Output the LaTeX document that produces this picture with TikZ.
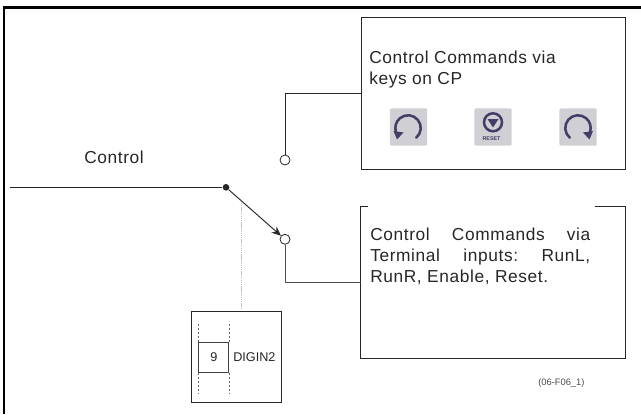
\documentclass[tikz,border=0pt]{standalone}
\usepackage{fontspec}
\setmainfont[LetterSpace=3.5]{Liberation Sans}
\newfontfamily\plainfont{Liberation Sans}
\usetikzlibrary{arrows.meta}
\definecolor{keybg}{RGB}{208,208,212}
\definecolor{keyfg}{RGB}{66,62,104}
\tikzset{
  x=0.75pt,y=-0.75pt,
  frameline/.style={line width=1.9pt,black},
  boxline/.style={line width=0.7pt,draw=black!85},
  wire/.style={line width=0.7pt,draw=black!85},
  term/.style={circle,draw=black!85,fill=white,line width=0.6pt,minimum size=7.5pt,inner sep=0pt},
  junction/.style={circle,fill=black!85,minimum size=5pt,inner sep=0pt},
  label/.style={inner sep=0pt,anchor=base west,font=\fontsize{13pt}{15pt}\selectfont,text=black!85},
  small/.style={inner sep=0pt,font=\plainfont\fontsize{9.5pt}{11pt}\selectfont,text=black!85},
  key/.style={fill=keybg,rounded corners=1pt,minimum size=28pt,inner sep=0pt},
  keyarc/.style={draw=keyfg,line width=1.9pt,line cap=round},
  keytip/.style={fill=keyfg,draw=none},
  dots/.style={line width=0.7pt,draw=black!60,dash pattern=on 1.5pt off 1.5pt},
}
\begin{document}
\begin{tikzpicture}
\useasboundingbox (0,0) rectangle (641,414);
\draw[frameline] (4,414) -- (4,7.5) -- (641,7.5);
% top box
\node[draw=black!85,line width=0.7pt,minimum width=198.4pt,minimum height=114pt,inner sep=0pt,anchor=north west] (cp) at (360.5,16.5) {};
\node[label] (t1) at (369,63) {Control Commands via};
\node[label] (t2) at (369,84) {keys on CP};
\node[key] (k1) at (408.5,127) {};
\node[key] (k2) at (493,127) {};
\node[key] (k3) at (578,127) {};
\draw[keyarc] (416.2,137.7) arc[start angle=50,end angle=-198,radius=12.7];
\path[keytip] (393.5,131) -- (403.5,132.5) -- (397,139.5) -- cycle;
\draw[keyarc] (569.8,137.7) arc[start angle=130,end angle=378,radius=12.7];
\path[keytip] (593,131) -- (583,132.5) -- (589.5,139.5) -- cycle;
\node[circle,draw=keyfg,line width=1.9pt,minimum size=13.5pt,inner sep=0pt] (k2c) at (493,122.3) {};
\path[keytip] (487.5,119) -- (498.5,119) -- (493,127.5) -- cycle;
\node[inner sep=0pt,font=\plainfont\bfseries\fontsize{4pt}{4pt}\selectfont,text=keyfg] (k2b) at (491.5,138.5) {RESET};
% lower box with a gap in the top edge
\coordinate (bg1) at (368,206.5);
\coordinate (bg2) at (595,206.5);
\draw[boxline] (bg1) -- (360.5,206.5) -- (360.5,358.5) -- (625,358.5) -- (625,206.5) -- (bg2);
\node[inner sep=0pt,anchor=north west,align=left,font=\fontsize{13pt}{15.6pt}\selectfont,text=black!85] (t3) at (370,228) {%
\hbox to 165pt{Control\hfill Commands\hfill via}\\
\hbox to 165pt{Terminal\hfill inputs:\hfill RunL,}\\
RunR, Enable, Reset.};
% switch
\coordinate (in) at (10,187.3);
\node[junction] (j) at (226,187.3) {};
\node[term] (up) at (285,160) {};
\node[term] (dn) at (285,239.3) {};
\coordinate (upbend) at (285,93.3);
\coordinate (dnbend) at (285,282.7);
\draw[wire] (in) -- (j);
\draw[wire,-{Stealth[length=7pt,width=6pt]}] (j) -- (dn);
\draw[wire] (up) -- (upbend) -- (upbend -| cp.west);
\draw[wire,draw=black!70] (dn) -- (dnbend) -- (360.5,282.7);
\node[label] (ctl) at (84,163) {Control};
% digin
\node[draw=black!85,line width=0.8pt,minimum width=67.5pt,minimum height=68.7pt,inner sep=0pt,anchor=north west] (dg) at (191,310.7) {};
\node[draw=black!75,line width=0.7pt,minimum width=22.5pt,minimum height=22.5pt,small] (nine) at (213.8,357.3) {9};
\node[small,anchor=west] (dig) at (233,356.7) {DIGIN2};
\draw[dots] (nine.north west) -- ++(0,-20);
\draw[dots] (nine.north east) -- ++(0,-20);
\draw[dots] (nine.south west) -- ++(0,21);
\draw[dots] (nine.south east) -- ++(0,21);
\coordinate (dd1) at (241,203);
\coordinate (dd2) at (241,308);
\draw[line width=0.7pt,draw=black!25,dash pattern=on 1pt off 0.6pt] (dd1) -- (dd2);
\node[inner sep=0pt,anchor=base west,font=\plainfont\fontsize{7pt}{8pt}\selectfont,text=black!70] (code) at (538,385) {(06-F06\_1)};
\end{tikzpicture}
\end{document}
